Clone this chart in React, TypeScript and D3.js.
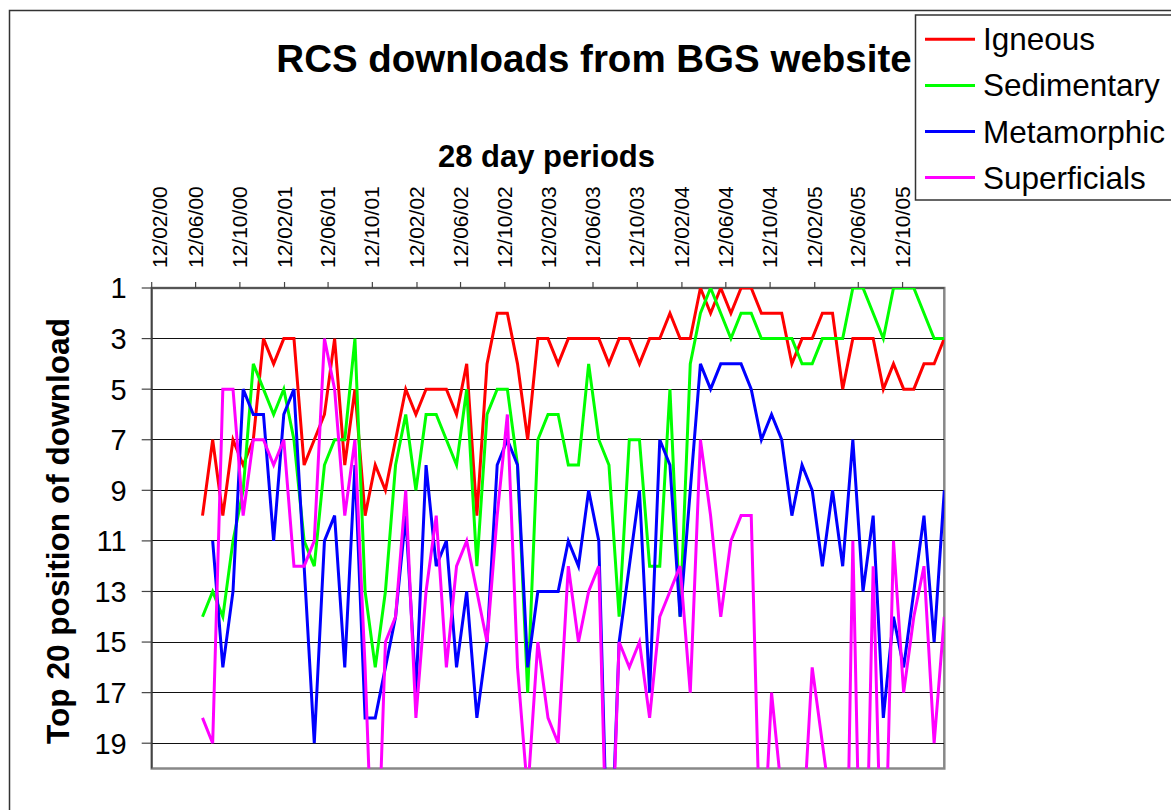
import React, { useEffect, useRef } from 'react'
import * as d3 from 'd3'

// 28 day periods, first one starts 01/07/00
const firstPeriod = '01/07/00'
const axisStart = '12/02/00'
const tickLabels = [
    '12/02/00', '12/06/00', '12/10/00', '12/02/01', '12/06/01', '12/10/01',
    '12/02/02', '12/06/02', '12/10/02', '12/02/03', '12/06/03', '12/10/03',
    '12/02/04', '12/06/04', '12/10/04', '12/02/05', '12/06/05', '12/10/05'
]
const yTicks = [1, 3, 5, 7, 9, 11, 13, 15, 17, 19]

const igneous = [
    10, 7, 10, 7, 8, 7, 3, 4, 3, 3, 8, 7, 6, 3, 8, 5, 10, 8, 9, 7,
    5, 6, 5, 5, 5, 6, 4, 10, 4, 2, 2, 4, 7, 3, 3, 4, 3, 3, 3, 3,
    4, 3, 3, 4, 3, 3, 2, 3, 3, 1, 2, 1, 2, 1, 1, 2, 2, 2, 4, 3,
    3, 2, 2, 5, 3, 3, 3, 5, 4, 5, 5, 4, 4, 3
]
const sedimentary = [
    14, 13, 14, 11, 9, 4, 5, 6, 5, 7, 11, 12, 8, 7, 7, 3, 13, 16, 13, 8,
    6, 9, 6, 6, 7, 8, 5, 12, 6, 5, 5, 8, 17, 7, 6, 6, 8, 8, 4, 7,
    8, 14, 7, 7, 12, 12, 5, 14, 4, 2, 1, 2, 3, 2, 2, 3, 3, 3, 3, 4,
    4, 3, 3, 3, 1, 1, 2, 3, 1, 1, 1, 2, 3, 3
]
const metamorphic = [
    null, 11, 16, 13, 5, 6, 6, 11, 6, 5, 12, 19, 11, 10, 16, 8, 18, 18, 16, 14,
    10, 17, 8, 12, 11, 16, 13, 18, 15, 8, 7, 8, 16, 13, 13, 13, 11, 12, 9, 11,
    26, 15, 12, 9, 17, 7, 8, 14, 9, 4, 5, 4, 4, 4, 5, 7, 6, 7, 10, 8,
    9, 12, 9, 12, 7, 13, 10, 18, 14, 16, 13, 10, 15, 9
]
const superficials = [
    18, 19, 5, 5, 10, 7, 7, 8, 7, 12, 12, 11, 3, 5, 10, 7, 16, 27, 15, 14,
    9, 18, 13, 10, 16, 12, 11, 13, 15, 10, 6, 16, 21, 15, 18, 19, 12, 15, 13, 12,
    27, 15, 16, 15, 18, 14, 13, 12, 17, 7, 10, 14, 11, 10, 10, 25, 17, 21, 25, 23,
    16, 19, 22, 34, 11, 30, 12, 27, 11, 17, 14, 12, 19, 14
]

const seriesNames = ['Igneous', 'Sedimentary', 'Metamorphic', 'Superficials']
const seriesColors = ['#ff0000', '#00ff00', '#0000ff', '#ff00ff']

const App = () => {
    const ref = useRef<SVGSVGElement>(null)

    useEffect(() => {
        document.body.style.margin = '0'
        const svg = d3.select(ref.current)
        svg.selectAll('*').remove()

        const font = 'Liberation Sans, Arial, sans-serif'
        const left = 151.7, right = 944.3, top = 288, bottom = 768.5

        const parse = d3.timeParse('%d/%m/%y')
        const start = parse(firstPeriod) as Date
        const series = [igneous, sedimentary, metamorphic, superficials]
        const dates = igneous.map((_, i) => d3.timeDay.offset(start, 28 * i))

        const xScale = d3.scaleTime()
            .domain([parse(axisStart) as Date, dates[dates.length - 1]])
            .range([left, right])
        const yScale = d3.scaleLinear().domain([1, 20]).range([top, bottom])

        // chart area border
        svg.append('path')
            .attr('d', `M9.5,830V10.5H1190`)
            .attr('fill', 'none')
            .attr('stroke', '#333')
            .attr('stroke-width', 1.5)

        svg.append('text')
            .attr('x', 594).attr('y', 72)
            .attr('text-anchor', 'middle')
            .attr('font-family', font).attr('font-weight', 'bold').attr('font-size', 38.5)
            .text('RCS downloads from BGS website')

        svg.append('text')
            .attr('x', 546.5).attr('y', 167)
            .attr('text-anchor', 'middle')
            .attr('font-family', font).attr('font-weight', 'bold').attr('font-size', 31)
            .text('28 day periods')

        svg.append('text')
            .attr('transform', `translate(68.5, 531) rotate(-90)`)
            .attr('text-anchor', 'middle')
            .attr('font-family', font).attr('font-weight', 'bold').attr('font-size', 31.6)
            .text('Top 20 position of download')

        // plot area
        svg.append('rect')
            .attr('x', left).attr('y', top)
            .attr('width', right - left).attr('height', bottom - top)
            .attr('fill', '#fff')
            .attr('stroke', '#888').attr('stroke-width', 2.5)

        svg.append('g')
            .selectAll('line')
            .data(yTicks.filter(d => d > 1))
            .join('line')
            .attr('x1', left).attr('x2', right)
            .attr('y1', d => yScale(d)).attr('y2', d => yScale(d))
            .attr('stroke', '#111').attr('stroke-width', 1)
            .attr('shape-rendering', 'crispEdges')

        // axes lines
        svg.append('path')
            .attr('d', `M${left},${bottom}V${top}H${right}`)
            .attr('fill', 'none')
            .attr('stroke', '#444').attr('stroke-width', 1.5)

        const tickDates = tickLabels.map(t => parse(t) as Date)
        svg.append('g')
            .selectAll('line')
            .data(tickDates)
            .join('line')
            .attr('x1', d => xScale(d)).attr('x2', d => xScale(d))
            .attr('y1', top - 6).attr('y2', top)
            .attr('stroke', '#444').attr('stroke-width', 1.2)

        svg.append('g')
            .selectAll('text')
            .data(tickLabels)
            .join('text')
            .attr('transform', (d, i) => `translate(${xScale(tickDates[i]) + (i === 0 ? 15 : 7)}, 268) rotate(-90)`)
            .attr('font-family', font).attr('font-size', 21)
            .text(d => d)

        svg.append('g')
            .selectAll('line')
            .data(yTicks)
            .join('line')
            .attr('x1', left - 10).attr('x2', left)
            .attr('y1', d => yScale(d)).attr('y2', d => yScale(d))
            .attr('stroke', '#444').attr('stroke-width', 1.2)

        svg.append('g')
            .selectAll('text')
            .data(yTicks)
            .join('text')
            .attr('x', 126.7)
            .attr('y', d => yScale(d))
            .attr('dy', '0.36em')
            .attr('text-anchor', 'end')
            .attr('font-family', font).attr('font-size', 29)
            .text(d => d)

        svg.append('clipPath')
            .attr('id', 'plot-clip')
            .append('rect')
            .attr('x', left).attr('y', top)
            .attr('width', right - left).attr('height', bottom - top)

        const line = d3.line<number | null>()
            .defined(d => d != null)
            .x((d, i) => xScale(dates[i]))
            .y(d => yScale(d as number))

        svg.append('g')
            .attr('clip-path', 'url(#plot-clip)')
            .selectAll('path')
            .data(series)
            .join('path')
            .attr('d', d => line(d))
            .attr('fill', 'none')
            .attr('stroke', (d, i) => seriesColors[i])
            .attr('stroke-width', 3)

        // legend
        const legend = svg.append('g')
        legend.append('rect')
            .attr('x', 915.5).attr('y', 15)
            .attr('width', 280).attr('height', 185)
            .attr('fill', '#fff')
            .attr('stroke', '#333').attr('stroke-width', 1.5)
        seriesNames.forEach((name, i) => {
            const ly = 39.3 + i * 46.1
            legend.append('line')
                .attr('x1', 925).attr('x2', 975)
                .attr('y1', ly).attr('y2', ly)
                .attr('stroke', seriesColors[i]).attr('stroke-width', 3)
            legend.append('text')
                .attr('x', 983).attr('y', ly + 11)
                .attr('font-family', font).attr('font-size', 31.5)
                .text(name)
        })
    }, [])

    return <svg ref={ref} width={1171} height={810} style={{ display: 'block', background: '#fff' }} />
}

export default App
